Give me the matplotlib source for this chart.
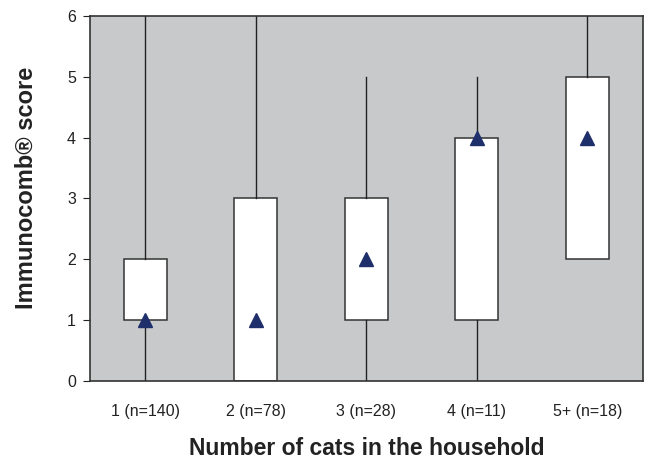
import matplotlib.pyplot as plt
import numpy as np

plt.rcParams['font.family'] = ['Liberation Sans', 'DejaVu Sans']

# data
labels = ['1 (n=140)', '2 (n=78)', '3 (n=28)', '4 (n=11)', '5+ (n=18)']
mins = [0, 0, 0, 0, 2]
q1s = [1, 0, 1, 1, 2]
medians = [1, 1, 2, 4, 4]
q3s = [2, 3, 3, 4, 5]
maxs = [6, 6, 5, 5, 6]

stats = []
for i in range(len(labels)):
    stats.append({'whislo': mins[i], 'q1': q1s[i], 'med': medians[i],
                  'q3': q3s[i], 'whishi': maxs[i], 'label': labels[i]})

fig = plt.figure(figsize=(6.46, 4.61), dpi=100)
ax = fig.add_axes([0.139, 0.174, 0.856, 0.791])
ax.set_facecolor('#c8c9cb')

pos = np.arange(1, len(labels) + 1)
ax.bxp(stats, positions=pos, widths=0.39, showcaps=False, showfliers=False,
       patch_artist=True,
       boxprops=dict(facecolor='white', edgecolor='#333333', linewidth=1.1),
       whiskerprops=dict(color='#222222', linewidth=1.0),
       medianprops=dict(linewidth=0))
ax.plot(pos, medians, '^', color='#1f2f6b', markersize=10, linestyle='none',
        zorder=5)

ax.set_xlim(0.5, 5.5)
ax.set_ylim(0, 6)
ax.set_yticks(range(0, 7))
ax.set_xticks(pos)
ax.set_xticklabels(labels)
ax.tick_params(axis='x', length=0, pad=17, labelsize=11.5, colors='#222222')
ax.tick_params(axis='y', length=5, direction='out', labelsize=11.5,
               colors='#222222', pad=5)
for s in ax.spines.values():
    s.set_color('#333333')
    s.set_linewidth(1.2)

ax.set_ylabel('Immunocomb\u00ae score', fontsize=17, fontweight='bold',
              color='#222222')
ax.yaxis.set_label_coords(-0.094, 0.53)
ax.set_xlabel('Number of cats in the household', fontsize=16.5,
              fontweight='bold', color='#222222')
ax.xaxis.set_label_coords(0.5, -0.155)

fig.savefig('out.png', dpi=100)
